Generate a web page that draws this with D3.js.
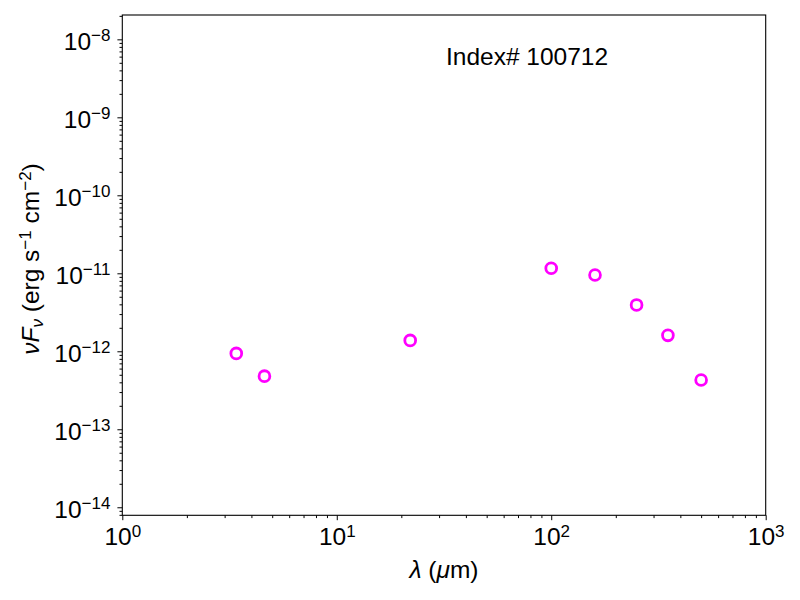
<!DOCTYPE html>
<html>
<head>
<meta charset="utf-8">
<script src="https://cdn.jsdelivr.net/npm/d3@7"></script>
<style>
body { margin: 0; background: #fff; }
svg text { font-family: "Liberation Sans", Arial, Helvetica, sans-serif; fill: #000; }
</style>
</head>
<body>
<div class="chart"></div>
<script>
// wavelengths (micron) and fluxes nuFnu (erg s^-1 cm^-2)
const wavelength = [3.4, 4.6, 22, 100, 160, 250, 350, 500];
const flux = [9.4e-13, 4.8e-13, 1.38e-12, 1.16e-11, 9.5e-12, 3.93e-12, 1.6e-12, 4.28e-13];
const xTickExp = [0, 1, 2, 3];
const yTickExp = [-14, -13, -12, -11, -10, -9, -8];
const title = 'Index# 100712';

const width = 800, height = 600;
const margin = {left: 122.3, right: 34.3, top: 15, bottom: 84.7};
const fs = 24.5, fsSup = 17;

const svg = d3.select('.chart')
	.append('svg')
	.attr('width', width)
	.attr('height', height);

const x = d3.scaleLog()
	.domain([1, 1000])
	.range([margin.left, width - margin.right]);

const y = d3.scaleLog()
	.domain([Math.pow(10, -14.103), Math.pow(10, -7.688)])
	.range([height - margin.bottom, margin.top]);

// minor ticks 2..9 in each decade
function minors(lo, hi, dom) {
	let out = [];
	for (let e = lo; e <= hi; e++) {
		for (let m = 2; m <= 9; m++) {
			let v = m * Math.pow(10, e);
			if (v >= dom[0] && v <= dom[1]) out.push(v);
		}
	}
	return out;
}

function supLabel(sel, exp) {
	sel.text('');
	sel.append('tspan').text('10');
	sel.append('tspan')
		.attr('dy', '-0.5em')
		.style('font-size', fsSup + 'px')
		.text(String(exp).replace('-', '\u2212'));
}

// x axis
const xAxis = svg.append('g')
	.attr('transform', `translate(0,${height - margin.bottom})`)
	.call(d3.axisBottom(x).tickValues(xTickExp.map(e => Math.pow(10, e))).tickSize(4.9).tickPadding(5).tickFormat(''));
xAxis.selectAll('.tick text').each(function(d, i) {
	d3.select(this).style('font-size', fs + 'px').attr('dy', '0.82em');
	supLabel(d3.select(this), xTickExp[i]);
});
svg.append('g')
	.attr('transform', `translate(0,${height - margin.bottom})`)
	.call(d3.axisBottom(x).tickValues(minors(0, 2, x.domain())).tickSize(2.8).tickFormat(''));

// y axis
const yAxis = svg.append('g')
	.attr('transform', `translate(${margin.left},0)`)
	.call(d3.axisLeft(y).tickValues(yTickExp.map(e => Math.pow(10, e))).tickSize(4.9).tickPadding(7).tickFormat(''));
yAxis.selectAll('.tick text').each(function(d, i) {
	d3.select(this).style('font-size', fs + 'px').attr('dy', '0.41em');
	supLabel(d3.select(this), yTickExp[i]);
});
svg.append('g')
	.attr('transform', `translate(${margin.left},0)`)
	.call(d3.axisLeft(y).tickValues(minors(-15, -8, y.domain())).tickSize(2.8).tickFormat(''));

svg.selectAll('.domain').remove();
svg.selectAll('.tick line').attr('stroke', '#000').attr('stroke-width', 1);

// frame
svg.append('rect')
	.attr('x', margin.left)
	.attr('y', margin.top)
	.attr('width', width - margin.left - margin.right)
	.attr('height', height - margin.top - margin.bottom)
	.attr('fill', 'none')
	.attr('stroke', '#000')
	.attr('stroke-width', 1.1);

// points
svg.selectAll('circle.pt')
	.data(wavelength)
	.enter()
	.append('circle')
	.attr('class', 'pt')
	.attr('cx', d => x(d))
	.attr('cy', (d, i) => y(flux[i]))
	.attr('r', 5.4)
	.attr('fill', 'none')
	.attr('stroke', '#ff00ff')
	.attr('stroke-width', 2.8);

// annotation
svg.append('text')
	.attr('x', (margin.left + width - margin.right) / 2 + 2)
	.attr('y', 65)
	.style('font-size', fs + 'px')
	.text(title);

// x label
const xl = svg.append('text')
	.attr('x', (margin.left + width - margin.right) / 2)
	.attr('y', 578)
	.attr('text-anchor', 'middle')
	.style('font-size', fs + 'px');
xl.append('tspan').style('font-style', 'italic').text('\u03bb');
xl.append('tspan').text(' (');
xl.append('tspan').style('font-style', 'italic').text('\u03bc');
xl.append('tspan').text('m)');

// y label
const yl = svg.append('text')
	.attr('transform', `translate(39,259) rotate(-90)`)
	.attr('text-anchor', 'middle')
	.style('font-size', fs + 'px');
yl.append('tspan').style('font-style', 'italic').text('\u03bdF');
yl.append('tspan').style('font-style', 'italic').style('font-size', fsSup + 'px').attr('dy', '0.25em').text('\u03bd');
yl.append('tspan').attr('dy', '-0.17em').text(' (erg s');
yl.append('tspan').style('font-size', fsSup + 'px').attr('dy', '-0.5em').text('\u22121');
yl.append('tspan').attr('dy', '0.35em').text(' cm');
yl.append('tspan').style('font-size', fsSup + 'px').attr('dy', '-0.5em').text('\u22122');
yl.append('tspan').attr('dy', '0.35em').text(')');
</script>
</body>
</html>
